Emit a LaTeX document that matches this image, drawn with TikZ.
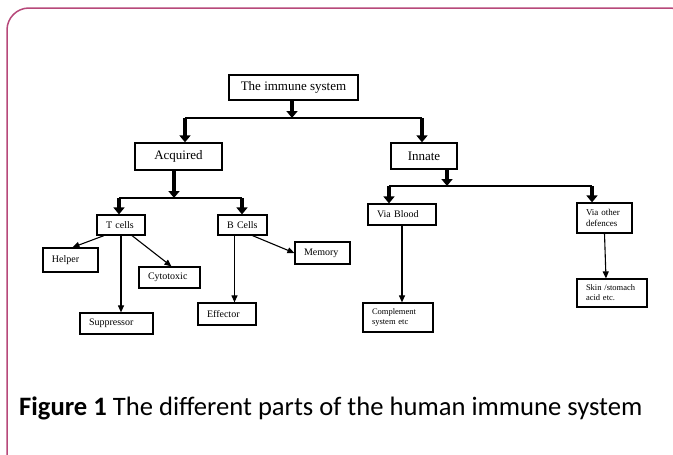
\documentclass[tikz,border=0pt]{standalone}
\usepackage{fontspec}
\setmainfont{Liberation Serif}
\newfontfamily\capfont{Carlito}
\usetikzlibrary{arrows.meta}
\definecolor{framepink}{RGB}{183,72,122}
\begin{document}
\begin{tikzpicture}[x=1pt,y=-1pt,
  cbox/.style={draw, line width=1.3pt, inner sep=0pt, font=\fontsize{13}{15}\selectfont},
  lbox/.style={draw, line width=1.2pt, inner xsep=9pt, inner ysep=0pt, align=left, font=\fontsize{10}{11}\selectfont},
  sbox/.style={draw, line width=1.2pt, inner xsep=9pt, inner ysep=0pt, align=left, font=\fontsize{8.5}{10}\selectfont},
  thickarr/.style={line width=4.5pt, -{Triangle[width=11pt,length=7pt]}},
  arr/.style={line width=1.1pt, -{Triangle[width=6pt,length=7pt]}},
  link/.style={line width=1.5pt},
  frame/.style={draw=framepink, line width=1.5pt, rounded corners=22pt}
]
\useasboundingbox (0,0) rectangle (673,455);
\clip (0,0) rectangle (673,455);
% outer frame
\draw[frame] (7,475) -- (7,8) -- (692,8) -- (692,475);

% nodes
\node[cbox, line width=1.8pt, minimum width=129pt, minimum height=25pt] (top) at (293.5,87.5) {The immune system};
\node[cbox, minimum width=87pt, minimum height=27pt] (acq) at (178.5,156.5) {Acquired};
\node[cbox, minimum width=66pt, minimum height=26pt] (inn) at (424,156) {Innate};

\node[lbox, text width=30pt, minimum height=20pt] (tc) at (121,225) {T cells};
\node[lbox, text width=31pt, minimum height=20pt] (bc) at (242.5,225) {B Cells};
\node[lbox, text width=37pt, minimum height=24pt] (helper) at (70.5,260) {Helper};
\node[lbox, text width=43pt, minimum height=21pt] (cyto) at (169.5,277.5) {Cytotoxic};
\node[lbox, text width=55pt, minimum height=21pt] (supp) at (116.5,323.5) {Suppressor};
\node[lbox, text width=40pt, minimum height=22pt] (eff) at (227,314) {Effector};
\node[lbox, text width=37pt, minimum height=22pt] (mem) at (322.5,253) {Memory};

\node[lbox, text width=50pt, minimum height=21pt] (blood) at (402,214.5) {Via Blood};
\node[sbox, font=\fontsize{9}{11}\selectfont, text width=37pt, minimum height=30pt] (other) at (604.5,218) {Via other\\defences};
\node[sbox, text width=52pt, minimum height=29pt] (comp) at (398,317.5) {Complement\\system etc};
\node[sbox, text width=52pt, minimum height=28pt] (skin) at (612,293) {Skin /stomach\\acid etc.};

% junction coordinates
\coordinate (j1) at (292,118);
\coordinate (j1a) at (185,118);
\coordinate (j1b) at (422,118);
\coordinate (j2) at (174,198);
\coordinate (j2a) at (119,198);
\coordinate (j2b) at (242,198);
\coordinate (j3) at (447,186);
\coordinate (j3a) at (389,186);
\coordinate (j3b) at (592,186);

% top level
\draw[thickarr] (top.south -| j1) -- (j1);
\draw[link] (j1a) -- (j1b);
\draw[thickarr] (j1a) -- (acq.north -| j1a);
\draw[thickarr] (j1b) -- (inn.north -| j1b);

% acquired branch
\draw[thickarr] (acq.south -| j2) -- (j2);
\draw[link] (j2a) -- (j2b);
\draw[thickarr] (j2a) -- (tc.north -| j2a);
\draw[thickarr] (j2b) -- (bc.north -| j2b);

% innate branch
\draw[thickarr] (inn.south -| j3) -- (j3);
\draw[link] (j3a) -- (j3b);
\draw[thickarr] (j3a) -- (blood.north -| j3a);
\draw[thickarr] (j3b) -- (other.north -| j3b);

% T cells
\draw[arr] ([xshift=-17pt]tc.south) -- ([xshift=2pt]helper.north);
\draw[arr] (tc.south) -- (tc.south |- supp.north);
\draw[arr] ([xshift=11pt]tc.south) -- ([xshift=2pt]cyto.north);
% B cells
\draw[arr] ([xshift=-8pt]bc.south) -- ([xshift=-8pt]bc.south |- eff.north);
\draw[arr] ([xshift=10pt]bc.south) -- (mem.west);
% innate leaves
\draw[arr] (blood.south) -- (blood.south |- comp.north);
\draw[arr] (other.south) -- ([xshift=-6pt]skin.north);

% caption
\node[anchor=base west, inner sep=0pt, font=\capfont\fontsize{26.6}{30}\selectfont] (cap) at (19,415) {\textbf{Figure 1} The different parts of the human immune system};
\end{tikzpicture}
\end{document}
